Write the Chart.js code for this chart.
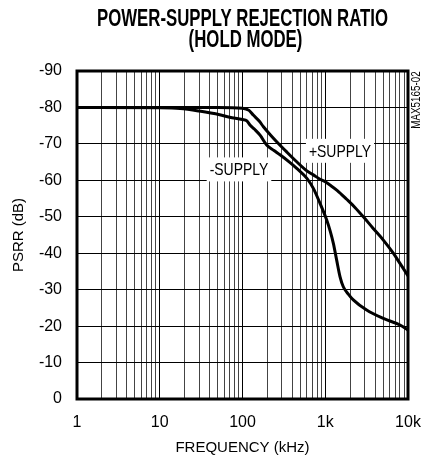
<!DOCTYPE html>
<html>
<head>
<meta charset="utf-8">
<script src="https://cdn.jsdelivr.net/npm/chart.js@4.4.1/dist/chart.umd.min.js"></script>
<style>
  html, body { margin: 0; padding: 0; background: #fff; }
  #wrap { width: 421px; height: 458px; }
</style>
</head>
<body>
<div id="wrap"><canvas id="psrr" width="421" height="458"></canvas></div>
<script>
// frequency in kHz, PSRR in dB
const plusFreq = [1, 10, 50, 100, 120, 135, 160, 179, 215, 259, 342, 452, 600, 718, 864, 1000, 1141, 1400, 1814, 2300, 2887, 3800, 5035, 6640, 8000, 10000];
const plusPsrr = [-80, -80, -80, -79.8, -79.2, -77.9, -76.2, -74.7, -72.6, -70.6, -67.8, -65.1, -62.6, -61.5, -60.3, -59.6, -58.7, -57.2, -54.8, -52.5, -50.0, -46.8, -43.6, -40.0, -37.2, -33.8];

const minusFreq = [1, 10, 17.6, 30, 53, 70, 100, 113, 123, 140, 163, 196, 240, 284, 360, 452, 597, 718, 864, 1041, 1150, 1253, 1374, 1507, 1652, 1900, 2182, 3163, 5035, 8000, 10000];
const minusPsrr = [-80, -79.9, -79.7, -79, -78, -77.3, -76.7, -76.3, -75.2, -74, -72.4, -69.7, -68.2, -67.0, -65.2, -63.3, -60.6, -57.8, -53.7, -49.1, -46, -42.7, -38.1, -33.6, -30.8, -28.8, -27.2, -24.4, -22.1, -20.3, -18.9];

const xMajorTicks = [1, 10, 100, 1000, 10000];
const xTickLabels = ['1', '10', '100', '1k', '10k'];
const yTicks = [-90, -80, -70, -60, -50, -40, -30, -20, -10, 0];

const titleLines = ['POWER-SUPPLY REJECTION RATIO', '(HOLD MODE)'];
const curveLabels = [
  { text: '+SUPPLY', freq: 1507, psrr: -68.1 },
  { text: '-SUPPLY', freq: 90.7, psrr: -63.0 }
];
const partNumber = 'MAX5165-02';

const FONT = "'Liberation Sans', Arial, sans-serif";

// every 1..9 step of each decade, for the log grid
const xGridTicks = [];
xMajorTicks.slice(0, -1).forEach(d => {
  for (let m = 1; m < 10; m++) xGridTicks.push(d * m);
});
xGridTicks.push(xMajorTicks[xMajorTicks.length - 1]);

const toPoints = (xs, ys) => xs.map((x, i) => ({ x: x, y: ys[i] }));

// the original uses a condensed face, so squeeze text sideways
function narrowText(ctx, text, x, y, squeeze) {
  ctx.save();
  ctx.translate(x, y);
  ctx.scale(squeeze, 1);
  ctx.fillText(text, 0, 0);
  ctx.restore();
}

const framePlugin = {
  id: 'frameAndLabels',
  afterDatasetsDraw(chart) {
    const { ctx, chartArea: a, scales } = chart;
    ctx.save();
    ctx.fillStyle = '#000';
    ctx.textAlign = 'center';
    ctx.textBaseline = 'middle';

    // title
    ctx.font = 'bold 24px ' + FONT;
    const sq = 291 / ctx.measureText(titleLines[0]).width;
    const cx = (a.left + a.right) / 2;
    narrowText(ctx, titleLines[0], cx, 19, sq);
    narrowText(ctx, titleLines[1], cx + 3, 40, sq);

    // curve labels on white boxes
    ctx.font = '17px ' + FONT;
    curveLabels.forEach(l => {
      const px = scales.x.getPixelForValue(l.freq);
      const py = scales.y.getPixelForValue(l.psrr);
      const w = ctx.measureText(l.text).width * 0.82 + 6;
      ctx.fillStyle = '#fff';
      ctx.fillRect(px - w / 2, py - 12, w, 24);
      ctx.fillStyle = '#000';
      narrowText(ctx, l.text, px, py + 1, 0.82);
    });

    ctx.strokeStyle = '#000';
    ctx.lineWidth = 3;
    ctx.strokeRect(a.left, a.top, a.right - a.left, a.bottom - a.top);

    ctx.translate(a.right + 9, a.top + 29);
    ctx.rotate(-Math.PI / 2);
    ctx.font = '12px ' + FONT;
    narrowText(ctx, partNumber, 0, 0, 0.82);
    ctx.restore();
  }
};

new Chart(document.getElementById('psrr'), {
  type: 'line',
  data: {
    datasets: [
      {
        label: '+SUPPLY',
        data: toPoints(plusFreq, plusPsrr),
        borderColor: '#000',
        borderWidth: 3,
        pointRadius: 0,
        cubicInterpolationMode: 'monotone'
      },
      {
        label: '-SUPPLY',
        data: toPoints(minusFreq, minusPsrr),
        borderColor: '#000',
        borderWidth: 3,
        pointRadius: 0,
        cubicInterpolationMode: 'monotone'
      }
    ]
  },
  options: {
    responsive: false,
    animation: false,
    devicePixelRatio: 1,
    layout: { padding: { left: 6, right: 13, top: 71, bottom: 0 } },
    plugins: {
      legend: { display: false },
      tooltip: { enabled: false },
      title: { display: false }
    },
    scales: {
      x: {
        type: 'logarithmic',
        min: 1,
        max: 10000,
        afterBuildTicks: scale => { scale.ticks = xGridTicks.map(v => ({ value: v })); },
        afterFit: scale => {
          scale.height = 59;
          scale.paddingLeft = 0;
          scale.paddingRight = 0;
        },
        ticks: {
          autoSkip: false,
          maxRotation: 0,
          color: '#000',
          padding: 14,
          font: { family: FONT, size: 16 },
          callback: value => {
            const i = xMajorTicks.indexOf(value);
            return i >= 0 ? xTickLabels[i] : '';
          }
        },
        grid: {
          color: c => xMajorTicks.includes(c.tick && c.tick.value) ? '#000' : '#444',
          lineWidth: 1,
          drawTicks: false
        },
        border: { display: false },
        title: {
          display: true,
          text: 'FREQUENCY (kHz)',
          color: '#000',
          font: { family: FONT, size: 15 },
          padding: { top: 0, bottom: 1 }
        }
      },
      y: {
        type: 'linear',
        reverse: true,
        min: -90,
        max: 0,
        afterBuildTicks: scale => { scale.ticks = yTicks.map(v => ({ value: v })); },
        afterFit: scale => {
          scale.width = 71;
          scale.paddingTop = 0;
          scale.paddingBottom = 0;
        },
        ticks: {
          color: '#000',
          padding: 15,
          font: { family: FONT, size: 16 },
          callback: value => String(value)
        },
        grid: { color: '#000', lineWidth: 1, drawTicks: false },
        border: { display: false },
        title: {
          display: true,
          text: 'PSRR (dB)',
          color: '#000',
          font: { family: FONT, size: 15 },
          padding: { top: 4, bottom: 0 }
        }
      }
    }
  },
  plugins: [framePlugin]
});
</script>
</body>
</html>
